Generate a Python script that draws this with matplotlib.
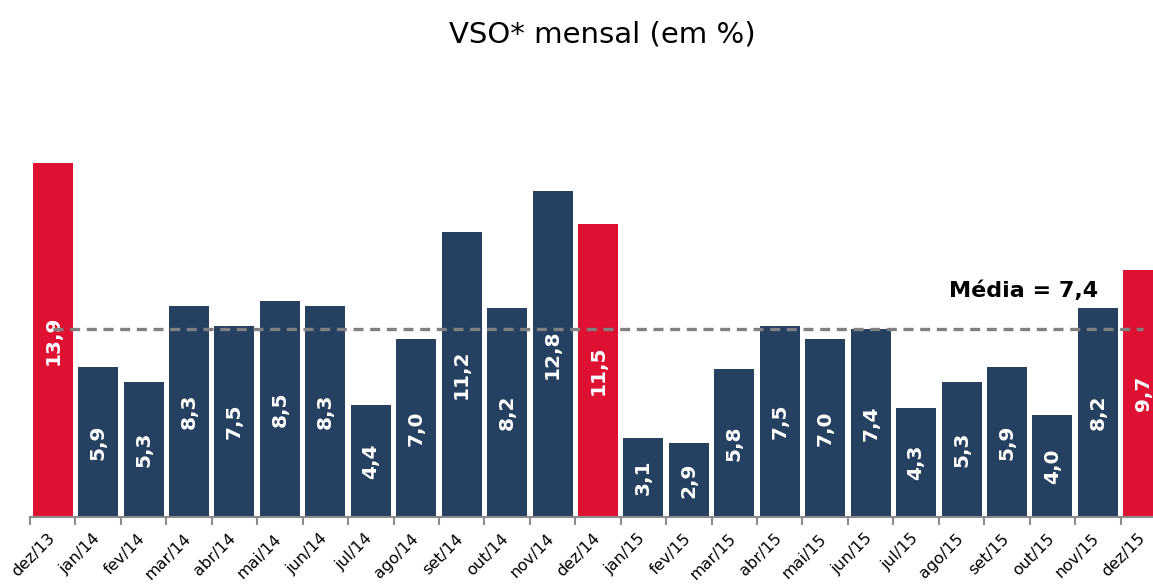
import matplotlib
matplotlib.use("Agg")
import matplotlib.pyplot as plt
import matplotlib.transforms as mtransforms
import numpy as np

months = ["dez/13", "jan/14", "fev/14", "mar/14", "abr/14", "mai/14", "jun/14", "jul/14",
          "ago/14", "set/14", "out/14", "nov/14", "dez/14", "jan/15", "fev/15", "mar/15",
          "abr/15", "mai/15", "jun/15", "jul/15", "ago/15", "set/15", "out/15", "nov/15", "dez/15"]
values = [13.9, 5.9, 5.3, 8.3, 7.5, 8.5, 8.3, 4.4, 7.0, 11.2, 8.2, 12.8, 11.5,
          3.1, 2.9, 5.8, 7.5, 7.0, 7.4, 4.3, 5.3, 5.9, 4.0, 8.2, 9.7]
mean_value = 7.4
title = "VSO* mensal (em %)"
mean_label = "Média = 7,4"

NAVY = "#264061"
RED = "#DF1133"
colors = [RED if m.startswith("dez") else NAVY for m in months]

fig = plt.figure(figsize=(11.53, 5.86), dpi=100)
ax = fig.add_axes([30/1153, 1-517/586, 1136/1153, (517-110)/586])

x = np.arange(len(months))
bars = ax.bar(x, values, width=0.88, color=colors, zorder=2)

for xi, v in zip(x, values):
    ax.text(xi, v/2, f"{v:.1f}".replace(".", ","), rotation=90, ha="center", va="center",
            color="white", fontsize=14.5, fontweight="bold", zorder=3)

ax.plot([x[0], x[-1]], [mean_value, mean_value], linestyle=(0, (3, 2)), color="#808080",
        linewidth=2.4, zorder=4)
ax.text(x[-2], mean_value + 1.5, mean_label, ha="right", va="center",
        fontsize=16, fontweight="bold", color="black")

ax.set_xlim(-0.5, len(months)-0.5)
ax.set_ylim(0, 16)
ax.set_xticks(x)
ax.set_xticklabels(months, rotation=45, ha="right", rotation_mode="anchor", fontsize=11.5)
ax.tick_params(axis="x", which="major", length=0, pad=10)
offset = mtransforms.ScaledTranslation(-6/100, 0, fig.dpi_scale_trans)
for lbl in ax.get_xticklabels():
    lbl.set_transform(lbl.get_transform() + offset)
ax.set_xticks(np.arange(-0.5, len(months) - 0.5, 1.0), minor=True)
ax.tick_params(axis="x", which="minor", length=6, width=1.5, color="#8c8c8c")
ax.set_yticks([])
for s in ["left", "right", "top"]:
    ax.spines[s].set_visible(False)
ax.spines["bottom"].set_color("#8c8c8c")
ax.spines["bottom"].set_linewidth(1.5)

fig.text(602/1153, 1-35/586, title, ha="center", va="center", fontsize=21)

fig.savefig("out.png", dpi=100)
